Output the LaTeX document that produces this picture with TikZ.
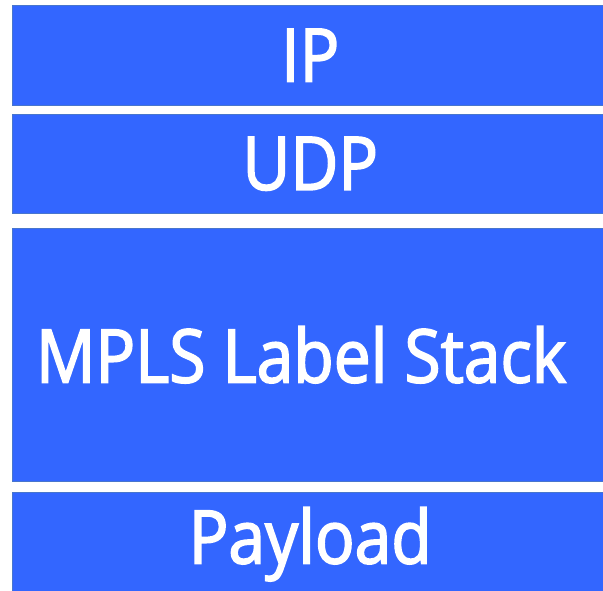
\documentclass[tikz,border=0pt]{standalone}
\usepackage{fontspec}
\setmainfont{Open Sans}[FakeStretch=0.89,FakeBold=2.2]
\definecolor{boxblue}{RGB}{51,102,255}
\definecolor{edgeblue}{RGB}{72,118,205}
\begin{document}
\begin{tikzpicture}[x=1pt,y=-1pt,
  layer/.style={fill=boxblue,draw=edgeblue,line width=1.5pt,anchor=north west,inner sep=0pt,
    minimum width=596pt,text=white,font=\fontsize{74}{86}\selectfont}]
\useasboundingbox (0,0) rectangle (603,590);
\clip (0,0) rectangle (603,590);
\node[layer,minimum height=100pt] (ip) at (11.5,4.5) {IP};
\node[layer,minimum height=99pt] (udp) at (11.5,113.5) {UDP};
\node[layer,minimum height=253pt] (mpls) at (11.5,227.5) {MPLS Label Stack\hspace*{18pt}};
\node[layer,minimum height=104pt] (payload) at (11.5,491.5) {Payload};
\end{tikzpicture}
\end{document}
